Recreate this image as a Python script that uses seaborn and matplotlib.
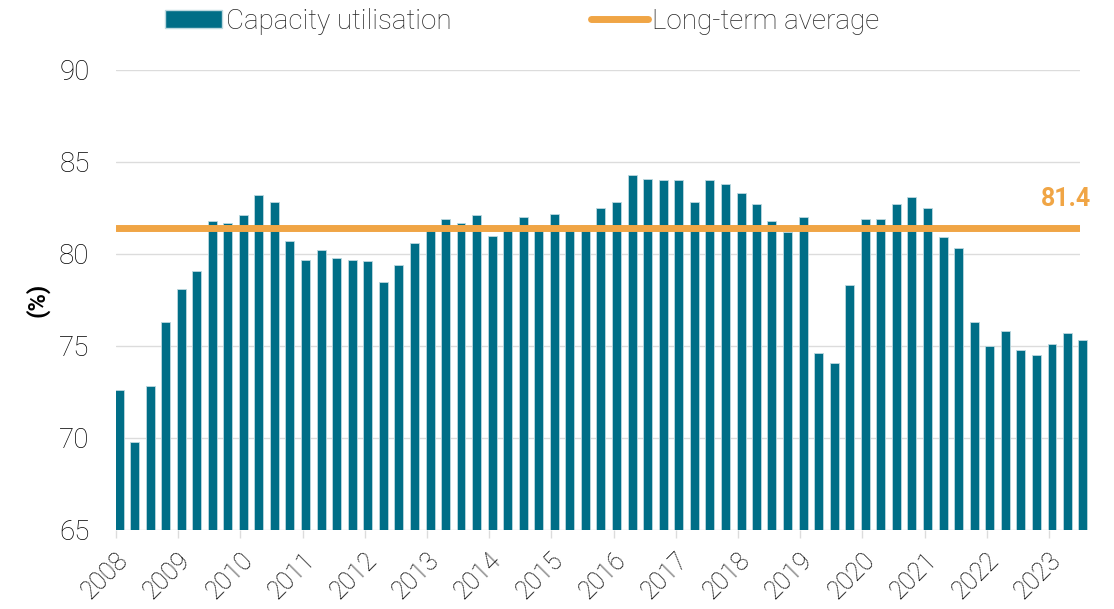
import numpy as np
import pandas as pd
import matplotlib
matplotlib.use("Agg")
import matplotlib.pyplot as plt
import matplotlib.transforms as mtransforms
from matplotlib.patches import Patch
from matplotlib.lines import Line2D
import seaborn as sns

# ---------------- data ----------------
years = [2008]*4 + [2009]*4 + [2010]*4 + [2011]*4 + [2012]*4 + [2013]*4 + \
        [2014]*4 + [2015]*4 + [2016]*4 + [2017]*4 + [2018]*4 + [2019]*4 + \
        [2020]*4 + [2021]*4 + [2022]*4 + [2023]*3
quarters = [1, 2, 3, 4]*15 + [1, 2, 3]
capacity = [72.6, 69.8, 72.8, 76.3,
            78.1, 79.1, 81.8, 81.7,
            82.1, 83.2, 82.8, 80.7,
            79.7, 80.2, 79.8, 79.7,
            79.6, 78.5, 79.4, 80.6,
            81.5, 81.9, 81.7, 82.1,
            81.0, 81.4, 82.0, 81.6,
            82.2, 81.4, 81.6, 82.5,
            82.8, 84.3, 84.1, 84.0,
            84.0, 82.8, 84.0, 83.8,
            83.3, 82.7, 81.8, 81.2,
            82.0, 74.6, 74.1, 78.3,
            81.9, 81.9, 82.7, 83.1,
            82.5, 80.9, 80.3, 76.3,
            75.0, 75.8, 74.8, 74.5,
            75.1, 75.7, 75.3]
long_term_avg = 81.4
year_ticks = list(range(2008, 2024))
y_ticks = [65, 70, 75, 80, 85, 90]
series_label = "Capacity utilisation"
avg_label = "Long-term average"

# ---------------- style ----------------
TEAL = "#006e87"
ORANGE = "#f0a545"
GRID = "#dcdcdc"
TXT = "#000000"

sns.set_theme(style="white")
plt.rcParams["font.family"] = ["Roboto", "DejaVu Sans"]

df = pd.DataFrame({"year": years, "q": quarters, "value": capacity})
df["pos"] = df["year"] + (df["q"] - 1) * 0.2487 + 0.05

fig = plt.figure(figsize=(11.14, 6.09), dpi=100)
ax = fig.add_axes([116/1114, 1 - 530/609, (1080-116)/1114, (530-70)/609])

sns.barplot(data=df, x="pos", y="value", native_scale=True, width=0.58,
            color=TEAL, saturation=1, edgecolor="#bcd8df", linewidth=0.6,
            legend=False, ax=ax, zorder=2)
# let the last bar poke slightly past the right edge, as in the reference
wide_clip = mtransforms.TransformedBbox(mtransforms.Bbox([[0, 0], [1.01, 1]]), ax.transAxes)
ax.patches[-1].set_clip_box(wide_clip)

ax.axhline(long_term_avg, color=ORANGE, lw=5, solid_capstyle="round", zorder=3)

ax.set_xlim(2008, 2023.5)
ax.set_ylim(65, 90)
ax.set_yticks(y_ticks)
ax.set_yticklabels([str(v) for v in y_ticks], fontsize=20, fontweight="light", color=TXT)
ax.set_xticks(year_ticks)
ax.set_xticklabels([str(y) for y in year_ticks], rotation=45, ha="right", va="top",
                   rotation_mode="anchor", fontsize=18, fontweight="light", color=TXT)
offset = mtransforms.ScaledTranslation(3/100, 0, fig.dpi_scale_trans)
for lbl in ax.get_xticklabels():
    lbl.set_transform(lbl.get_transform() + offset)
ax.tick_params(axis="x", length=6, color=GRID, width=1, pad=7, bottom=True)
ax.tick_params(axis="y", length=0, pad=19)

ax.grid(axis="y", color=GRID, lw=1, zorder=0)
ax.set_axisbelow(True)
for s in ax.spines.values():
    s.set_visible(False)

ax.set_xlabel("")
ax.set_ylabel("(%)", fontsize=17, fontweight="bold", color=TXT, labelpad=7)

ax.text(2023.27, 83.0, f"{long_term_avg:.1f}", color=ORANGE,
        fontsize=18, fontweight="bold", ha="center", va="center", clip_on=False)

handles = [Patch(facecolor=TEAL, edgecolor="#bcd8df", label=series_label),
           Line2D([0], [0], color=ORANGE, lw=5, solid_capstyle="round", label=avg_label)]
fig.legend(handles=handles, loc="upper left", bbox_to_anchor=(140/1114, 1.028), ncol=2,
           frameon=False, handlelength=2.05, handleheight=0.65,
           handletextpad=0.15, columnspacing=5.0, prop={"weight": "light", "size": 20})

fig.savefig("out.png", dpi=100)
